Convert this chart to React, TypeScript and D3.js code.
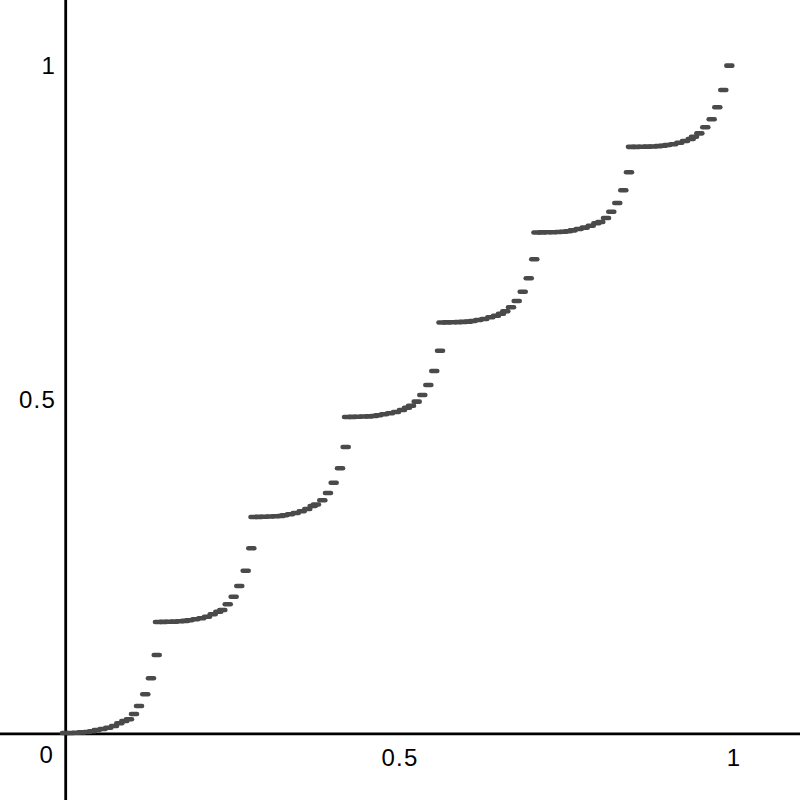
import { useEffect, useRef } from 'react';
import * as d3 from 'd3';

const step1X = [0, 0.0082, 0.0165, 0.0247, 0.0329, 0.0404, 0.0475, 0.0564, 0.0648, 0.0734, 0.0813, 0.0888, 0.0958, 0.1033, 0.1108, 0.1202, 0.1287, 0.1373];
const step1Y = [0, 0.0001, 0.0004, 0.0009, 0.0016, 0.0027, 0.0045, 0.006, 0.0079, 0.0105, 0.0145, 0.018, 0.0205, 0.0284, 0.0404, 0.0579, 0.0819, 0.1168];

const step2X = [0.1392, 0.1475, 0.1557, 0.1639, 0.1722, 0.1796, 0.1861, 0.1951, 0.204, 0.2126, 0.2211, 0.2295, 0.2355, 0.2436, 0.2525, 0.2609, 0.2705, 0.2789];
const step2Y = [0.1662, 0.1663, 0.1665, 0.1668, 0.1672, 0.1678, 0.1687, 0.1702, 0.1717, 0.1741, 0.1777, 0.1816, 0.1841, 0.1927, 0.204, 0.2201, 0.243, 0.2765];

const step3X = [0.2822, 0.2904, 0.2987, 0.3069, 0.3151, 0.3226, 0.3283, 0.3368, 0.3454, 0.3543, 0.3627, 0.3708, 0.3757, 0.3852, 0.3937, 0.4022, 0.4117, 0.4202];
const step3Y = [0.3234, 0.3235, 0.3237, 0.324, 0.3244, 0.3249, 0.3259, 0.3274, 0.3293, 0.3319, 0.3353, 0.3398, 0.3421, 0.3484, 0.3593, 0.3747, 0.3963, 0.4281];

const step4X = [0.4222, 0.4304, 0.4386, 0.4469, 0.4551, 0.4626, 0.469, 0.4775, 0.4865, 0.4955, 0.5045, 0.512, 0.518, 0.5265, 0.5349, 0.5439, 0.5528, 0.5614];
const step4Y = [0.4731, 0.4732, 0.4734, 0.4737, 0.474, 0.4746, 0.4756, 0.4771, 0.4786, 0.4805, 0.4835, 0.487, 0.49, 0.496, 0.506, 0.521, 0.5419, 0.5723];

const step5X = [0.5636, 0.5719, 0.5801, 0.5883, 0.5966, 0.604, 0.6103, 0.6187, 0.6277, 0.6367, 0.6452, 0.6527, 0.6591, 0.6677, 0.6762, 0.6852, 0.6942, 0.7025];
const step5Y = [0.6145, 0.6147, 0.6148, 0.6151, 0.6154, 0.6159, 0.6168, 0.6183, 0.6198, 0.6223, 0.6247, 0.6277, 0.6313, 0.6373, 0.6467, 0.6606, 0.6807, 0.7091];

const step6X = [0.7058, 0.7141, 0.7223, 0.7305, 0.7388, 0.7463, 0.753, 0.76, 0.769, 0.778, 0.787, 0.7954, 0.8013, 0.8099, 0.8178, 0.8268, 0.8358, 0.8443];
const step6Y = [0.7493, 0.7494, 0.7496, 0.7497, 0.75, 0.7504, 0.7512, 0.7525, 0.7545, 0.7565, 0.7594, 0.763, 0.765, 0.771, 0.7804, 0.7934, 0.8124, 0.8394];

const step7X = [0.8473, 0.8555, 0.8638, 0.872, 0.8802, 0.8885, 0.8952, 0.9016, 0.9106, 0.9196, 0.9281, 0.9367, 0.9416, 0.9496, 0.9585, 0.9681, 0.9765, 0.9855, 0.9945];
const step7Y = [0.8775, 0.8775, 0.8777, 0.8778, 0.8781, 0.8786, 0.8792, 0.8802, 0.8813, 0.8837, 0.8862, 0.8892, 0.8927, 0.8977, 0.9067, 0.9187, 0.9367, 0.9626, 0.999];

const xTicks = [0.5, 1];
const yTicks = [0.5, 1];

const App = () => {
    const ref = useRef<SVGSVGElement>(null);

    useEffect(() => {
        const width = 800;
        const height = 800;

        const x = d3.scaleLinear().domain([0, 1]).range([65, 733]);
        const y = d3.scaleLinear().domain([0, 1]).range([733, 65]);

        const points = [
            [step1X, step1Y], [step2X, step2Y], [step3X, step3Y], [step4X, step4Y],
            [step5X, step5Y], [step6X, step6Y], [step7X, step7Y],
        ].flatMap(([xs, ys]) => xs.map((v, i) => ({ x: v, y: ys[i] })));

        const svg = d3.select(ref.current);
        svg.selectAll('*').remove();
        svg.attr('width', width).attr('height', height);

        svg.append('rect').attr('width', width).attr('height', height).attr('fill', '#fff');

        // axes
        svg.append('line')
            .attr('x1', x(0) + 0.7).attr('x2', x(0) + 0.7)
            .attr('y1', 0).attr('y2', height)
            .attr('stroke', '#000').attr('stroke-width', 2.8);
        svg.append('line')
            .attr('x1', 0).attr('x2', width)
            .attr('y1', y(0) + 0.8).attr('y2', y(0) + 0.8)
            .attr('stroke', '#000').attr('stroke-width', 2.8);

        const labels = svg.append('g')
            .attr('font-family', 'Liberation Sans, Arial, sans-serif')
            .attr('font-size', 24)
            .attr('letter-spacing', 1.2)
            .attr('fill', '#000');

        labels.selectAll('.xt')
            .data(xTicks)
            .join('text')
            .attr('x', d => x(d) + 1)
            .attr('y', y(0) + 33)
            .attr('text-anchor', 'middle')
            .text(d => d);

        labels.selectAll('.yt')
            .data(yTicks)
            .join('text')
            .attr('x', x(0) - 9)
            .attr('y', d => y(d) + 9)
            .attr('text-anchor', 'end')
            .text(d => d);

        labels.append('text')
            .attr('x', x(0) - 11)
            .attr('y', y(0) + 30)
            .attr('text-anchor', 'end')
            .text('0');

        // sampled points drawn as short dashes
        svg.append('g')
            .attr('stroke', '#4a4a4a')
            .attr('stroke-width', 4.6)
            .attr('stroke-linecap', 'round')
            .selectAll('line')
            .data(points)
            .join('line')
            .attr('x1', d => x(d.x) - 3)
            .attr('x2', d => x(d.x) + 3)
            .attr('y1', d => y(d.y))
            .attr('y2', d => y(d.y));
    }, []);

    return <svg ref={ref} style={{ position: 'absolute', left: 0, top: 0, display: 'block' }} />;
};

export default App;
